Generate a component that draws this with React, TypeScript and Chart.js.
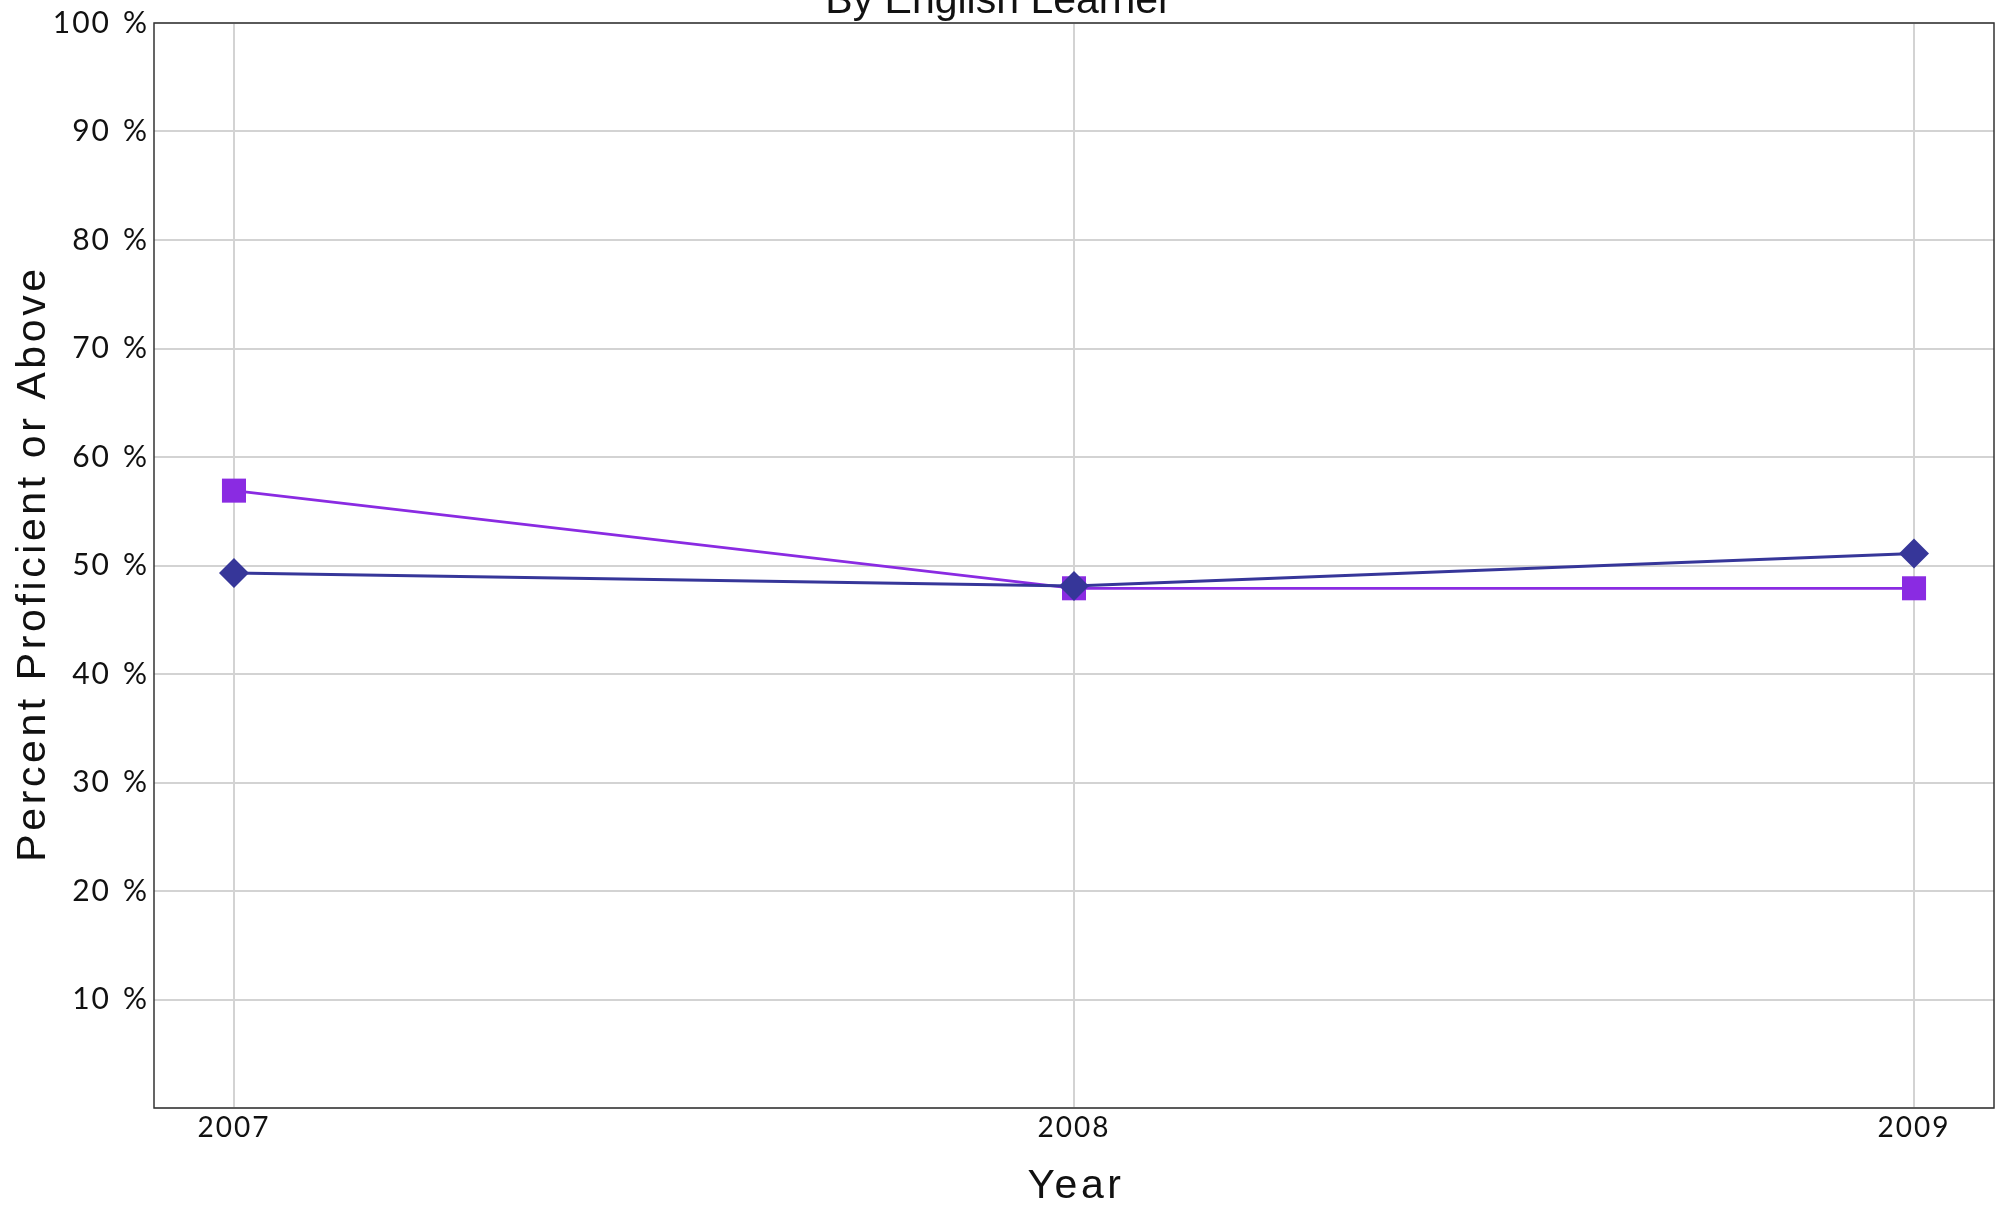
import React, { useEffect, useRef } from "react";
import { Chart, registerables } from "chart.js";

Chart.register(...registerables);

const years = [2007, 2008, 2009];
const englishLearnerYes = [49.3, 48.1, 51.1];
const englishLearnerNo = [56.9, 47.9, 47.9];
const yTicks = [10, 20, 30, 40, 50, 60, 70, 80, 90, 100];
const chartTitle = "By English Learner";
const xTitle = "Year";
const yTitle = "Percent Proficient or Above";

const TICK_FONT = "Lato";
const TITLE_FONT = "'Liberation Sans', Arial, sans-serif";

export default function App() {
  const ref = useRef<HTMLCanvasElement | null>(null);

  useEffect(() => {
    document.body.style.margin = "0";
    document.body.style.overflow = "hidden";
    const canvas = ref.current;
    if (!canvas) return;

    const spacingPlugin = {
      id: "spacing",
      beforeUpdate(chart: any) {
        chart.ctx.letterSpacing = "2px";
      },
      beforeDraw(chart: any) {
        chart.ctx.letterSpacing = "2px";
      },
    };

    const framePlugin = {
      id: "frame",
      afterDraw(chart: any) {
        const { ctx, chartArea } = chart;
        ctx.save();
        ctx.strokeStyle = "#333333";
        ctx.lineWidth = 1.5;
        ctx.strokeRect(chartArea.left, chartArea.top, chartArea.right - chartArea.left, chartArea.bottom - chartArea.top);

        ctx.fillStyle = "#111111";
        ctx.letterSpacing = "0px";
        ctx.font = `41px ${TITLE_FONT}`;
        ctx.textAlign = "center";
        ctx.textBaseline = "alphabetic";
        ctx.fillText(chartTitle, chart.width / 2, 13);

        ctx.letterSpacing = "3.6px";
        ctx.font = `41px ${TITLE_FONT}`;
        ctx.fillText(xTitle, (chartArea.left + chartArea.right) / 2 + 2, 1198);

        ctx.translate(45, (chartArea.top + chartArea.bottom) / 2);
        ctx.rotate(-Math.PI / 2);
        ctx.fillText(yTitle, 2, 0);
        ctx.restore();
      },
    };

    const chart = new Chart(canvas, {
      type: "line",
      data: {
        datasets: [
          {
            label: "English Learner",
            data: years.map((y, i) => ({ x: y, y: englishLearnerYes[i] })),
            borderColor: "#363699",
            backgroundColor: "#363699",
            borderWidth: 3,
            pointStyle: "rectRot",
            pointRadius: 15,
            pointBorderWidth: 0,
          },
          {
            label: "Not English Learner",
            data: years.map((y, i) => ({ x: y, y: englishLearnerNo[i] })),
            borderColor: "#8A2BE2",
            backgroundColor: "#8A2BE2",
            borderWidth: 2.8,
            pointStyle: "rect",
            pointRadius: 17,
            pointBorderWidth: 0,
          },
        ],
      },
      options: {
        responsive: false,
        animation: false,
        devicePixelRatio: 1,
        layout: { autoPadding: false, padding: { top: 23, right: 3, left: 0, bottom: 0 } },
        plugins: {
          legend: { display: false },
          title: { display: false },
          tooltip: { enabled: false },
        },
        scales: {
          x: {
            type: "linear",
            min: 2007 - 0.0952,
            max: 2009 + 0.0952,
            afterBuildTicks: (scale: any) => {
              scale.ticks = years.map((v) => ({ value: v }));
            },
            afterFit: (scale: any) => {
              scale.height = 97;
              scale.paddingLeft = 0;
              scale.paddingRight = 0;
            },
            grid: { color: "#d3d3d3", lineWidth: 2, drawTicks: false },
            border: { display: false },
            ticks: {
              padding: 3,
              color: "#111111",
              font: { family: TICK_FONT, size: 28 },
              callback: (v: any) => String(v),
              maxRotation: 0,
              autoSkip: false,
            },
          },
          y: {
            min: 0,
            max: 100,
            afterBuildTicks: (scale: any) => {
              scale.ticks = [0, ...yTicks].map((v) => ({ value: v }));
            },
            afterFit: (scale: any) => {
              scale.width = 154;
              scale.paddingTop = 0;
              scale.paddingBottom = 0;
            },
            grid: { color: "#d3d3d3", lineWidth: 2, drawTicks: false },
            border: { display: false },
            ticks: {
              padding: 5,
              color: "#111111",
              font: { family: TICK_FONT, size: 30 },
              callback: (v: any) => (v === 0 ? "" : `${v}\u2004%`),
            },
          },
        },
      },
      plugins: [spacingPlugin, framePlugin],
    });

    return () => chart.destroy();
  }, []);

  return <canvas ref={ref} width={1997} height={1205} style={{ display: "block", width: 1997, height: 1205 }} />;
}
